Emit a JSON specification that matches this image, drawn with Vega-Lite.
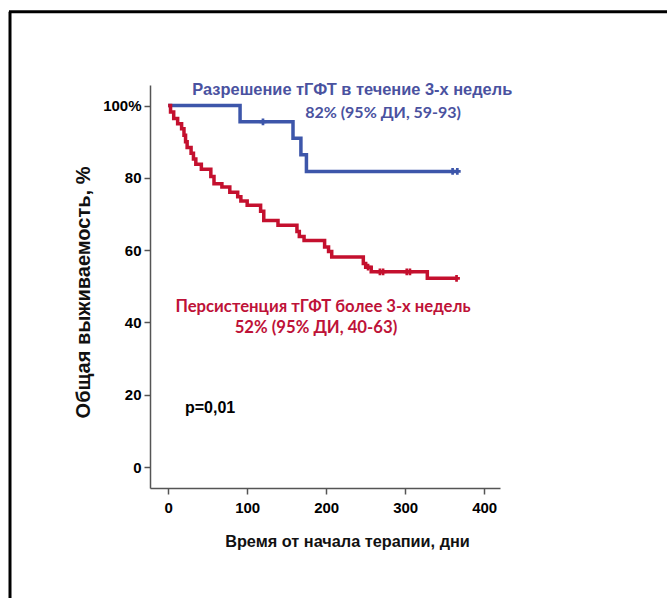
{
  "$schema": "https://vega.github.io/schema/vega-lite/v6.json",
  "autosize": {"type": "none"},
  "width": 350,
  "height": 403,
  "padding": {"left": 150, "top": 85, "right": 167, "bottom": 110},
  "background": "white",
  "config": {
    "view": {"stroke": null},
    "axis": {
      "labelFont": "Liberation Sans",
      "labelFontWeight": "bold",
      "labelFontSize": 15,
      "labelColor": "black",
      "titleFont": "Liberation Sans",
      "titleFontWeight": "bold",
      "titleColor": "#111",
      "domainColor": "#555",
      "domainWidth": 1.5,
      "tickColor": "#555",
      "tickWidth": 1.5,
      "tickSize": 6,
      "grid": false
    }
  },
  "datasets": {
    "curves": [
      {"group": "resolved", "t": 0, "s": 100},
      {"group": "resolved", "t": 91, "s": 95.5},
      {"group": "resolved", "t": 158, "s": 91.0},
      {"group": "resolved", "t": 168, "s": 86.4},
      {"group": "resolved", "t": 175, "s": 81.8},
      {"group": "resolved", "t": 367, "s": 81.8},
      {"group": "persistent", "t": 0, "s": 100},
      {"group": "persistent", "t": 3, "s": 98.2},
      {"group": "persistent", "t": 7, "s": 96.4},
      {"group": "persistent", "t": 12, "s": 95.0},
      {"group": "persistent", "t": 17, "s": 93.6},
      {"group": "persistent", "t": 20, "s": 91.8},
      {"group": "persistent", "t": 22, "s": 90.0},
      {"group": "persistent", "t": 24, "s": 88.4},
      {"group": "persistent", "t": 29, "s": 86.8},
      {"group": "persistent", "t": 32, "s": 85.2},
      {"group": "persistent", "t": 35, "s": 83.8},
      {"group": "persistent", "t": 42, "s": 82.4},
      {"group": "persistent", "t": 54, "s": 80.4},
      {"group": "persistent", "t": 58, "s": 78.4},
      {"group": "persistent", "t": 68, "s": 77.5},
      {"group": "persistent", "t": 78, "s": 76.0},
      {"group": "persistent", "t": 88, "s": 74.8},
      {"group": "persistent", "t": 92, "s": 73.6},
      {"group": "persistent", "t": 100, "s": 72.4},
      {"group": "persistent", "t": 117, "s": 70.8},
      {"group": "persistent", "t": 121, "s": 68.2},
      {"group": "persistent", "t": 139, "s": 66.9},
      {"group": "persistent", "t": 163, "s": 65.2},
      {"group": "persistent", "t": 166, "s": 63.8},
      {"group": "persistent", "t": 172, "s": 62.7},
      {"group": "persistent", "t": 198, "s": 60.9},
      {"group": "persistent", "t": 203, "s": 59.6},
      {"group": "persistent", "t": 207, "s": 58.1},
      {"group": "persistent", "t": 247, "s": 56.3},
      {"group": "persistent", "t": 250, "s": 55.3},
      {"group": "persistent", "t": 257, "s": 54.0},
      {"group": "persistent", "t": 328, "s": 52.2},
      {"group": "persistent", "t": 366, "s": 52.2}
    ],
    "censored": [
      {"group": "resolved", "t": 120, "s": 95.5},
      {"group": "resolved", "t": 360, "s": 81.8},
      {"group": "resolved", "t": 366, "s": 81.8},
      {"group": "persistent", "t": 253, "s": 55.3},
      {"group": "persistent", "t": 268, "s": 54.0},
      {"group": "persistent", "t": 272, "s": 54.0},
      {"group": "persistent", "t": 302, "s": 54.0},
      {"group": "persistent", "t": 306, "s": 54.0},
      {"group": "persistent", "t": 365, "s": 52.2}
    ],
    "notes": [
      {"t": 233, "s": 104.3, "text": "Разрешение тГФТ в течение 3-х недель", "kind": "blueTitle"},
      {"t": 272, "s": 98.0, "text": "82% (95% ДИ, 59-93)", "kind": "blueSub"},
      {"t": 196, "s": 44.3, "text": "Персистенция тГФТ более 3-х недель", "kind": "redTitle"},
      {"t": 187, "s": 38.5, "text": "52% (95% ДИ, 40-63)", "kind": "redSub"}
    ]
  },
  "layer": [
    {
      "data": {"name": "curves"},
      "mark": {"type": "line", "interpolate": "step-after", "strokeWidth": 3.5},
      "encoding": {
        "x": {
          "field": "t", "type": "quantitative",
          "scale": {"domain": [-23, 420], "nice": false, "zero": false},
          "axis": {
            "values": [0, 100, 200, 300, 400],
            "title": "Время от начала терапии, дни",
            "titleFontSize": 16.3,
            "titlePadding": 18,
            "titleX": 197,
            "labelPadding": 6
          }
        },
        "y": {
          "field": "s", "type": "quantitative",
          "scale": {"domain": [-5.8, 105.7], "nice": false, "zero": false},
          "axis": {
            "values": [0, 20, 40, 60, 80, 100],
            "labelExpr": "datum.value == 100 ? '100%' : datum.label",
            "title": "Общая выживаемость, %",
            "titleFontSize": 20,
            "titlePadding": 9,
            "titleY": 207,
            "labelPadding": 3
          }
        },
        "color": {
          "field": "group", "type": "nominal",
          "scale": {"domain": ["resolved", "persistent"], "range": ["#3D56AA", "#C4102E"]},
          "legend": null
        }
      }
    },
    {
      "data": {"name": "censored"},
      "mark": {"type": "point", "shape": "cross", "filled": true, "size": 45, "opacity": 1},
      "encoding": {
        "x": {"field": "t", "type": "quantitative"},
        "y": {"field": "s", "type": "quantitative"},
        "color": {"field": "group", "type": "nominal", "legend": null}
      }
    },
    {
      "data": {"name": "notes"},
      "transform": [{"filter": "datum.kind == 'blueTitle'"}],
      "mark": {"type": "text", "font": "Liberation Sans", "fontWeight": "bold", "fontSize": 16.4, "color": "#4A52A0", "align": "center", "baseline": "middle"},
      "encoding": {
        "x": {"field": "t", "type": "quantitative"},
        "y": {"field": "s", "type": "quantitative"},
        "text": {"field": "text"}
      }
    },
    {
      "data": {"name": "notes"},
      "transform": [{"filter": "datum.kind == 'blueSub'"}],
      "mark": {"type": "text", "font": "Lato", "fontWeight": "bold", "fontSize": 16, "color": "#4A52A0", "align": "center", "baseline": "middle"},
      "encoding": {
        "x": {"field": "t", "type": "quantitative"},
        "y": {"field": "s", "type": "quantitative"},
        "text": {"field": "text"}
      }
    },
    {
      "data": {"name": "notes"},
      "transform": [{"filter": "datum.kind == 'redTitle' || datum.kind == 'redSub'"}],
      "mark": {"type": "text", "font": "Lato", "fontWeight": "bold", "fontSize": 16.7, "color": "#BE1238", "align": "center", "baseline": "middle"},
      "encoding": {
        "x": {"field": "t", "type": "quantitative"},
        "y": {"field": "s", "type": "quantitative"},
        "text": {"field": "text"}
      }
    },
    {
      "data": {"values": [{"t": 21.3, "s": 16.3, "text": "p=0,01"}]},
      "mark": {"type": "text", "font": "Liberation Sans", "fontWeight": "bold", "fontSize": 16, "color": "black", "align": "left", "baseline": "middle"},
      "encoding": {
        "x": {"field": "t", "type": "quantitative"},
        "y": {"field": "s", "type": "quantitative"},
        "text": {"field": "text"}
      }
    },
    {
      "data": {"values": [{}]},
      "mark": {"type": "rule", "color": "black", "strokeWidth": 3, "clip": false},
      "encoding": {
        "x": {"datum": -200.2},
        "y": {"datum": 126.0},
        "y2": {"datum": -36.5}
      }
    },
    {
      "data": {"values": [{}]},
      "mark": {"type": "rule", "color": "black", "strokeWidth": 3, "clip": false},
      "encoding": {
        "y": {"datum": 126.0},
        "x": {"datum": -201.5},
        "x2": {"datum": 632}
      }
    }
  ]
}
